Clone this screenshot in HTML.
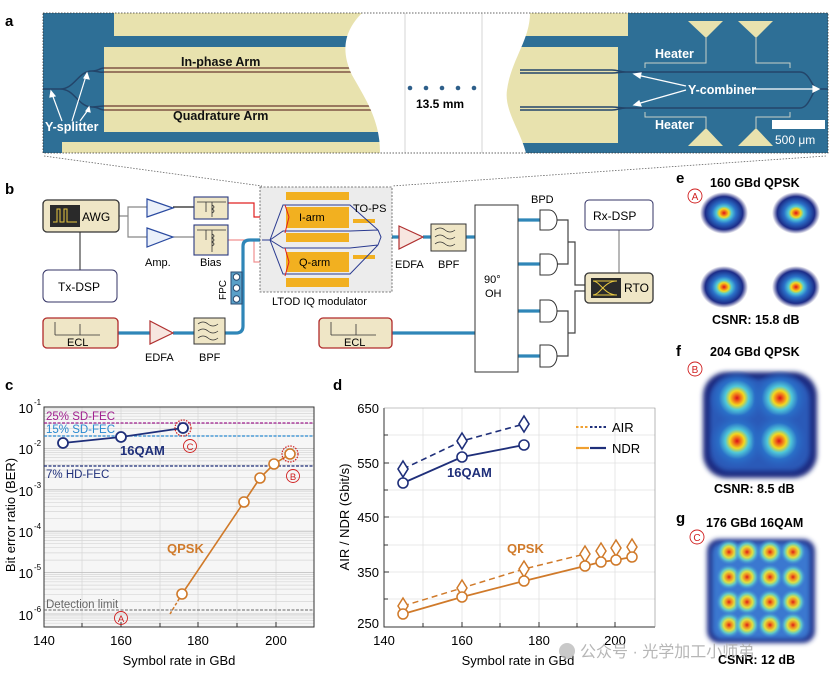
<!DOCTYPE html>
<html><head><meta charset="utf-8"><style>
html,body{margin:0;padding:0;background:#fff}
svg{display:block}
text{font-family:"Liberation Sans","Noto Sans CJK SC",sans-serif}
</style></head><body>
<svg width="835" height="685" viewBox="0 0 835 685" xmlns="http://www.w3.org/2000/svg">
<defs>
<radialGradient id="bl" cx="50%" cy="50%" r="50%">
<stop offset="0" stop-color="#d8101a"/><stop offset="0.09" stop-color="#f06a1a"/><stop offset="0.2" stop-color="#f2d820"/><stop offset="0.32" stop-color="#50c8d8"/><stop offset="0.5" stop-color="#2a70c8"/><stop offset="0.78" stop-color="#1c2c88"/><stop offset="1" stop-color="#2a2a80" stop-opacity="0"/>
</radialGradient>
<radialGradient id="blf" cx="50%" cy="50%" r="50%">
<stop offset="0" stop-color="#d8101a"/><stop offset="0.12" stop-color="#f06a1a"/><stop offset="0.26" stop-color="#f2d820"/><stop offset="0.42" stop-color="#50c8d8"/><stop offset="0.65" stop-color="#2a70c8"/><stop offset="1" stop-color="#2a60c0" stop-opacity="0"/>
</radialGradient>
<radialGradient id="bl2" cx="50%" cy="50%" r="50%">
<stop offset="0" stop-color="#d8201a"/><stop offset="0.2" stop-color="#f08a20"/><stop offset="0.42" stop-color="#e0e040"/><stop offset="0.65" stop-color="#60c8c8"/><stop offset="1" stop-color="#3a80d8" stop-opacity="0"/>
</radialGradient>
<filter id="soft"><feGaussianBlur stdDeviation="2.5"/></filter>
</defs>

<!-- ===== Panel a ===== -->
<text x="5" y="26" font-size="15" font-weight="bold">a</text>
<rect x="43" y="13" width="785" height="140" fill="#2e6f96"/>
<rect x="114" y="13" width="260" height="23" fill="#e8e2ae"/>
<rect x="104" y="47" width="280" height="85" fill="#e8e2ae"/>
<rect x="62" y="142" width="320" height="11" fill="#e8e2ae"/>
<rect x="500" y="13" width="128" height="23" fill="#e8e2ae"/>
<rect x="500" y="47" width="118" height="96" fill="#e8e2ae"/>
<g fill="none" stroke="#6a3a30" stroke-width="1.3">
<path d="M104,68 L370,68 M104,72 L370,72 M104,106 L380,106 M104,110 L380,110"/>
</g>
<g fill="none" stroke="#23456a" stroke-width="1.5">
<path d="M43,89 L60,89 C75,89 78,71 92,71 C98,71 100,68 104,68 M92,71 C98,71 100,73 104,72 M60,89 C75,89 78,107 92,107 C98,107 100,106 104,106 M92,107 C98,107 100,110 104,110"/>
<path d="M520,70 L612,70 M520,73 L612,73 M520,107 L612,107 M520,110 L612,110"/>
<path d="M612,70 C618,70 620,72 626,72 L800,72 C810,72 812,89 818,89 L828,89 M612,73 C618,73 620,72 626,72 M612,107 C618,107 620,108 626,108 L800,108 C810,108 812,89 818,89 M612,110 C618,110 620,108 626,108"/>
</g>
<path d="M362,13 C345,30 340,50 352,75 C366,100 380,120 380,153 L526,153 C520,130 504,110 507,90 C511,60 530,40 530,13 Z" fill="#fff"/>
<line x1="405" y1="13" x2="405" y2="153" stroke="#ccc" stroke-width="0.8"/>
<line x1="482" y1="13" x2="482" y2="153" stroke="#ccc" stroke-width="0.8"/>
<g fill="#2e5f8a"><circle cx="410" cy="88" r="2.3"/><circle cx="426" cy="88" r="2.3"/><circle cx="442" cy="88" r="2.3"/><circle cx="458" cy="88" r="2.3"/><circle cx="474" cy="88" r="2.3"/></g>
<text x="416" y="108" font-size="12" font-weight="bold">13.5 mm</text>
<g fill="#e8e2ae"><path d="M688,21 L723,21 L706,38 Z M738,21 L773,21 L756,38 Z M688,146 L723,146 L706,128 Z M738,146 L773,146 L756,128 Z"/></g>
<g fill="none" stroke="#c8d0c8" stroke-width="1"><path d="M645,68 L645,63 L706,63 L706,38 M790,68 L790,63 L756,63 L756,38 M645,112 L645,117 L706,117 L706,128 M790,112 L790,117 L756,117 L756,128"/></g>
<g fill="#fff" font-weight="bold" font-size="12.5">
<text x="655" y="58">Heater</text><text x="655" y="129">Heater</text>
<text x="688" y="94">Y-combiner</text>
<text x="181" y="66" fill="#111">In-phase Arm</text>
<text x="173" y="120" fill="#111">Quadrature Arm</text>
<text x="45" y="131">Y-splitter</text>
</g>
<g stroke="#fff" stroke-width="1.2" fill="#fff">
<path d="M686,86 L637,75 M686,90 L637,104 M752,89 L815,89" fill="none"/>
<path d="M634,74 l7,-1 l-1,5 z M634,105 l5,-4 l2,5 z M819,89 l-6,-3 l0,6 z"/>
<path d="M62,121 L52,94 M72,121 L86,76 M80,121 L88,110" fill="none"/>
<path d="M51,91 l-1,6 l5,-1 z M87,73 l-3,5 l5,1 z M89,107 l-3,4 l4,1 z"/>
</g>
<rect x="772" y="120" width="53" height="9" fill="#fff"/>
<text x="775" y="144" font-size="12" fill="#fff">500 μm</text>
<rect x="43" y="13" width="785" height="140" fill="none" stroke="#333" stroke-width="0.8" stroke-dasharray="1.5,1.5"/>
<path d="M44,156 L262,186 M826,156 L392,186" stroke="#666" stroke-width="0.8" stroke-dasharray="1.5,1.5" fill="none"/>

<!-- ===== Panel b ===== -->
<text x="5" y="194" font-size="15" font-weight="bold">b</text>
<g fill="none" stroke-width="1.2">
<path d="M119,216 L128,216 L128,207 L147,207 M119,216 L128,216 L128,237 L147,237" stroke="#888"/>
<path d="M173,207 L194,207" stroke="#222"/><path d="M173,237 L194,237" stroke="#888"/>
<path d="M80,232 L80,270" stroke="#444"/>
<path d="M228,203 L254,203 L254,217 L292,217" stroke="#e02020"/>
<path d="M228,240 L254,240 L254,262 L292,262" stroke="#f09090"/>
<path d="M619,230 L619,273" stroke="#888"/>
<path d="M557,220 L568,220 L568,264 L557,264 M568,242 L575,242 L575,285 L585,285 M557,311 L568,311 L568,356 L557,356 M568,333 L575,333 L575,291 L585,291" stroke="#444"/>
</g>
<g fill="none" stroke="#2f86b8" stroke-width="3.2">
<path d="M118,333 L150,333 M173,333 L194,333 M225,333 L236,333 Q243,333 243,326 L243,246 Q243,240 250,240 L262,240"/>
<path d="M381,237 L399,237 M423,237 L431,237 M466,237 L475,237 M392,333 L475,333"/>
<path d="M518,220 L540,220 M518,264 L540,264 M518,311 L540,311 M518,356 L540,356"/>
</g>
<rect x="43" y="200" width="76" height="32" rx="4" fill="#efe6c6" stroke="#333" stroke-width="1.3"/>
<rect x="50" y="205" width="30" height="22" fill="#2a2a2a"/>
<path d="M53,222 L57,222 L57,209 L60,209 L60,222 L64,222 L64,209 L67,209 L67,222 L77,222" stroke="#e8c840" fill="none" stroke-width="1"/>
<text x="82" y="221" font-size="12">AWG</text>
<rect x="43" y="270" width="74" height="32" rx="5" fill="#fff" stroke="#333366" stroke-width="1"/>
<text x="58" y="291" font-size="12">Tx-DSP</text>
<g fill="#eaf0fa" stroke="#2a4aa0" stroke-width="1.2"><path d="M147,199 L173,208 L147,217 Z"/><path d="M147,228 L173,237 L147,247 Z"/></g>
<text x="145" y="266" font-size="11">Amp.</text>
<g fill="#efe6c6" stroke="#2a3a80" stroke-width="1.1"><rect x="194" y="197" width="34" height="22"/><rect x="194" y="225" width="34" height="30"/></g>
<g fill="none" stroke="#333" stroke-width="0.8"><path d="M197,202 L226,202 M206,202 L206,212 M212,202 L212,217 M197,230 L226,230 M206,230 L206,240 M212,230 L212,252"/><path d="M212,205 q4,2 0,4 q4,2 0,4 M212,234 q4,2 0,4 q4,2 0,4 q4,2 0,4"/></g>
<text x="200" y="266" font-size="11">Bias</text>
<g fill="#5aa0c8" stroke="#2a4a70" stroke-width="1"><rect x="231" y="272" width="11" height="32"/></g>
<g fill="#fff" stroke="#2a4a70" stroke-width="1"><circle cx="236.5" cy="277" r="3.2"/><circle cx="236.5" cy="288" r="3.2"/><circle cx="236.5" cy="299" r="3.2"/></g>
<text transform="translate(226,300) rotate(-90)" font-size="10">FPC</text>
<rect x="43" y="318" width="75" height="30" rx="4" fill="#efe6c6" stroke="#b02a2a" stroke-width="1.3"/>
<path d="M55,335 L55,322 M55,335 L100,335 M80,335 L80,324" stroke="#333" fill="none" stroke-width="0.8"/>
<text x="67" y="346" font-size="11">ECL</text>
<path d="M150,321 L173,333 L150,344 Z" fill="#f7e6e0" stroke="#b03030" stroke-width="1.2"/>
<text x="145" y="361" font-size="11">EDFA</text>
<rect x="194" y="318" width="31" height="26" fill="#efe6c6" stroke="#333" stroke-width="1"/>
<path d="M198,324 q5,-4 10,0 t10,0 M198,331 q5,-4 10,0 t10,0 M198,338 q5,-4 10,0 t10,0" stroke="#333" fill="none" stroke-width="0.8"/>
<text x="199" y="361" font-size="11">BPF</text>
<rect x="260" y="187" width="132" height="105" fill="#ececec" stroke="#555" stroke-width="0.8" stroke-dasharray="2,1.5"/>
<g fill="#f2b020"><rect x="286" y="192" width="63" height="8"/><rect x="286" y="207" width="63" height="21"/><rect x="286" y="233" width="63" height="9"/><rect x="286" y="252" width="63" height="20"/><rect x="286" y="278" width="63" height="9"/><rect x="353" y="219" width="22" height="4"/><rect x="353" y="255" width="22" height="4"/></g>
<g fill="none" stroke="#2a3a90" stroke-width="1"><path d="M262,240 L270,240 L283,205 L350,205 L378,230 M270,240 L283,231 L350,231 L378,230 M270,240 L283,248 L350,248 L378,245 M270,240 L283,274 L350,274 L378,245 M378,230 L381,237 L378,245"/></g>
<g stroke="#e02020" stroke-width="1" fill="none"><path d="M289,217 l-4,-12 M289,217 l-4,16 M289,262 l-4,-14 M289,262 l-4,14"/></g>
<text x="299" y="221" font-size="11">I-arm</text>
<text x="299" y="266" font-size="11">Q-arm</text>
<text x="353" y="212" font-size="11">TO-PS</text>
<text x="272" y="305" font-size="11">LTOD IQ modulator</text>
<path d="M399,226 L423,237 L399,249 Z" fill="#f7e6e0" stroke="#b03030" stroke-width="1.2"/>
<text x="395" y="268" font-size="11">EDFA</text>
<rect x="431" y="224" width="35" height="27" fill="#efe6c6" stroke="#333" stroke-width="1"/>
<path d="M435,230 q5,-4 10,0 t10,0 M435,237 q5,-4 10,0 t10,0 M435,244 q5,-4 10,0 t10,0" stroke="#333" fill="none" stroke-width="0.8"/>
<text x="438" y="268" font-size="11">BPF</text>
<rect x="475" y="205" width="43" height="167" fill="#fff" stroke="#333" stroke-width="1"/>
<text x="484" y="283" font-size="11">90°</text>
<text x="485" y="297" font-size="11">OH</text>
<rect x="319" y="318" width="73" height="30" rx="4" fill="#efe6c6" stroke="#b02a2a" stroke-width="1.3"/>
<path d="M331,335 L331,322 M331,335 L376,335 M356,335 L356,324" stroke="#333" fill="none" stroke-width="0.8"/>
<text x="344" y="346" font-size="11">ECL</text>
<g fill="#fff" stroke="#333" stroke-width="1"><path d="M540,210 L549,210 A8,10 0 0 1 549,230 L540,230 Z M540,254 L549,254 A8,10 0 0 1 549,275 L540,275 Z M540,300 L549,300 A8,11 0 0 1 549,322 L540,322 Z M540,345 L549,345 A8,11 0 0 1 549,367 L540,367 Z"/></g>
<text x="531" y="203" font-size="11">BPD</text>
<rect x="585" y="200" width="68" height="30" rx="4" fill="#fff" stroke="#333366" stroke-width="1"/>
<text x="593" y="220" font-size="12">Rx-DSP</text>
<rect x="585" y="273" width="68" height="30" rx="4" fill="#efe6c6" stroke="#333" stroke-width="1.3"/>
<rect x="591" y="278" width="30" height="20" fill="#2a2a2a"/>
<path d="M593,281 C600,281 604,295 617,295 M593,295 C600,295 604,281 617,281 M593,281 L617,281 M593,295 L617,295" stroke="#e8c840" fill="none" stroke-width="1"/>
<text x="624" y="292" font-size="12">RTO</text>

<!-- ===== Panel e,f,g ===== -->
<g font-weight="bold" font-size="12.5">
<text x="676" y="183" font-size="15">e</text>
<text x="710" y="187">160 GBd QPSK</text>
<text x="712" y="324">CSNR: 15.8 dB</text>
<text x="676" y="356" font-size="15">f</text>
<text x="710" y="356">204 GBd QPSK</text>
<text x="714" y="493">CSNR: 8.5 dB</text>
<text x="676" y="523" font-size="15">g</text>
<text x="706" y="527">176 GBd 16QAM</text>
<text x="718" y="664">CSNR: 12 dB</text>
</g>
<g fill="none" stroke="#d02020" stroke-width="0.9"><circle cx="695" cy="196" r="7"/><circle cx="695" cy="369" r="7"/><circle cx="697" cy="537" r="7"/></g>
<g fill="#d02020" font-size="10" text-anchor="middle"><text x="695" y="200">A</text><text x="695" y="373">B</text><text x="697" y="541">C</text></g>
<g fill="url(#bl)"><ellipse cx="724" cy="213" rx="24" ry="21"/><ellipse cx="796" cy="213" rx="24" ry="21"/><ellipse cx="724" cy="287" rx="24" ry="21"/><ellipse cx="796" cy="287" rx="24" ry="21"/></g>
<rect x="703" y="372" width="114" height="106" rx="24" fill="#1e2c80" filter="url(#soft)"/>
<rect x="710" y="379" width="100" height="92" rx="20" fill="#2a5ab8" filter="url(#soft)"/>
<g fill="url(#blf)"><circle cx="737" cy="398" r="28"/><circle cx="780" cy="398" r="28"/><circle cx="737" cy="441" r="28"/><circle cx="779" cy="441" r="28"/></g>
<rect x="707" y="539" width="108" height="104" rx="12" fill="#22308a" filter="url(#soft)"/>
<rect x="712" y="543" width="98" height="96" rx="10" fill="#3a78d0" filter="url(#soft)"/>
<g fill="url(#bl2)">
<circle cx="729" cy="552" r="13"/><circle cx="747" cy="552" r="13"/><circle cx="770" cy="552" r="13"/><circle cx="793" cy="552" r="13"/>
<circle cx="729" cy="577" r="13"/><circle cx="747" cy="577" r="13"/><circle cx="770" cy="577" r="13"/><circle cx="793" cy="577" r="13"/>
<circle cx="729" cy="602" r="13"/><circle cx="747" cy="602" r="13"/><circle cx="770" cy="602" r="13"/><circle cx="793" cy="602" r="13"/>
<circle cx="729" cy="625" r="13"/><circle cx="747" cy="625" r="13"/><circle cx="770" cy="625" r="13"/><circle cx="793" cy="625" r="13"/>
</g>

<!-- ===== Panel c ===== -->
<text x="5" y="390" font-size="15" font-weight="bold">c</text>
<rect x="44" y="407" width="270" height="220" fill="#f6f6f6"/>
<path stroke="#d6d6d6" stroke-width="0.7" fill="none" d="
M44,601.5H314M44,594.3H314M44,589.1H314M44,585.1H314M44,581.8H314M44,579H314M44,576.6H314M44,574.5H314
M44,560.1H314M44,552.9H314M44,547.7H314M44,543.7H314M44,540.4H314M44,537.6H314M44,535.2H314M44,533.1H314
M44,518.7H314M44,511.5H314M44,506.3H314M44,502.3H314M44,499H314M44,496.2H314M44,493.8H314M44,491.7H314
M44,477.3H314M44,470.1H314M44,464.9H314M44,460.9H314M44,457.6H314M44,454.8H314M44,452.4H314M44,450.3H314
M44,435.9H314M44,428.7H314M44,423.5H314M44,419.5H314M44,416.2H314M44,413.4H314M44,411H314M44,408.9H314
M44,623.2H314M44,620.4H314M44,618H314M44,615.9H314
M121,407V627M198,407V627M276,407V627M82,407V627M160,407V627M237,407V627"/>
<path stroke="#bbb" stroke-width="0.8" d="M44,448.4H314M44,489.8H314M44,531.2H314M44,572.6H314M44,614H314"/>
<rect x="44" y="407" width="270" height="220" fill="none" stroke="#333" stroke-width="1"/>
<path stroke="#333" d="M82,627v-4M121,627v-5M160,627v-4M198,627v-5M237,627v-4M276,627v-5" />
<g font-size="13" text-anchor="middle"><text x="44" y="645">140</text><text x="121" y="645">160</text><text x="198" y="645">180</text><text x="276" y="645">200</text></g>
<g font-size="13" text-anchor="end">
<text x="33" y="413">10</text><text x="33" y="454">10</text><text x="33" y="496">10</text><text x="33" y="537">10</text><text x="33" y="578">10</text><text x="33" y="620">10</text></g>
<g font-size="8"><text x="34" y="405">-1</text><text x="34" y="446">-2</text><text x="34" y="488">-3</text><text x="34" y="529">-4</text><text x="34" y="570">-5</text><text x="34" y="612">-6</text></g>
<text x="179" y="665" font-size="13" text-anchor="middle">Symbol rate in GBd</text>
<text transform="translate(15,515) rotate(-90)" font-size="13" text-anchor="middle">Bit error ratio (BER)</text>
<g stroke-width="1.2" stroke-dasharray="3,1.5" fill="none">
<path d="M44,423H314" stroke="#a0208f"/><path d="M44,436H314" stroke="#2a8ad0"/><path d="M44,466H314" stroke="#1f2f7a"/><path d="M44,610H314" stroke="#666" stroke-width="0.9"/>
</g>
<g font-size="11.5"><text x="46" y="420" fill="#a0208f">25% SD-FEC</text><text x="46" y="433" fill="#2a8ad0">15% SD-FEC</text><text x="46" y="478" fill="#1f2f7a">7% HD-FEC</text><text x="46" y="608" fill="#666">Detection limit</text></g>
<path d="M63,443 L121,437 L183,428" stroke="#1f2f7a" stroke-width="1.8" fill="none"/>
<g fill="#fff" stroke="#1f2f7a" stroke-width="1.8"><circle cx="63" cy="443" r="5"/><circle cx="121" cy="437" r="5"/><circle cx="183" cy="428" r="5"/></g>
<path d="M170,614 L182,594" stroke="#d07a2a" stroke-width="1.5" stroke-dasharray="3,2"/>
<path d="M182,594 L244,502 L260,478 L274,464 L290,454" stroke="#d07a2a" stroke-width="1.6" fill="none"/>
<g fill="#fff" stroke="#d07a2a" stroke-width="1.6"><circle cx="182" cy="594" r="5"/><circle cx="244" cy="502" r="5"/><circle cx="260" cy="478" r="5"/><circle cx="274" cy="464" r="5"/><circle cx="290" cy="454" r="5"/></g>
<g fill="none" stroke="#d02020" stroke-width="1.2" stroke-dasharray="1.5,1.2"><circle cx="183" cy="428" r="8"/><circle cx="290" cy="454" r="8"/></g>
<g fill="none" stroke="#d02020" stroke-width="0.9"><circle cx="190" cy="446" r="6.5"/><circle cx="293" cy="476" r="6.5"/><circle cx="121" cy="618" r="6.5"/></g>
<g fill="#d02020" font-size="9.5" text-anchor="middle"><text x="190" y="450">C</text><text x="293" y="480">B</text><text x="121" y="622">A</text></g>
<text x="120" y="455" font-size="13" font-weight="bold" fill="#1f2f7a">16QAM</text>
<text x="167" y="553" font-size="13" font-weight="bold" fill="#d07a2a">QPSK</text>

<!-- ===== Panel d ===== -->
<text x="333" y="390" font-size="15" font-weight="bold">d</text>
<path stroke="#e2e2e2" stroke-width="0.8" fill="none" d="M384,435H655M384,463H655M384,490H655M384,517H655M384,545H655M384,572H655M384,599H655M423,408V627M462,408V627M500,408V627M539,408V627M577,408V627M615,408V627"/>
<path d="M384,408 L384,627 L655,627" stroke="#333" fill="none" stroke-width="1"/>
<path d="M384,408 L655,408 L655,627" stroke="#888" fill="none" stroke-width="0.6"/>
<path stroke="#333" d="M423,627v-4M462,627v-5M500,627v-4M539,627v-5M577,627v-4M615,627v-5M384,435h4M384,463h5M384,490h4M384,517h5M384,545h4M384,572h5M384,599h4"/>
<g font-size="13" text-anchor="middle"><text x="384" y="645">140</text><text x="462" y="645">160</text><text x="539" y="645">180</text><text x="615" y="645">200</text></g>
<g font-size="13" text-anchor="end"><text x="379" y="413">650</text><text x="379" y="468">550</text><text x="379" y="522">450</text><text x="379" y="577">350</text><text x="379" y="628">250</text></g>
<text x="518" y="665" font-size="13" text-anchor="middle">Symbol rate in GBd</text>
<text transform="translate(349,517) rotate(-90)" font-size="13" text-anchor="middle">AIR / NDR (Gbit/s)</text>
<path d="M403,469 L462,441 L524,424" stroke="#1f2f7a" stroke-width="1.6" stroke-dasharray="6,4" fill="none"/>
<path d="M403,483 L462,457 L524,445" stroke="#1f2f7a" stroke-width="1.8" fill="none"/>
<g fill="#fff" stroke="#1f2f7a" stroke-width="1.6">
<path d="M403,461 l5,8 l-5,8 l-5,-8 z M462,433 l5,8 l-5,8 l-5,-8 z M524,416 l5,8 l-5,8 l-5,-8 z"/>
<circle cx="403" cy="483" r="5"/><circle cx="462" cy="457" r="5"/><circle cx="524" cy="445" r="5"/></g>
<path d="M403,606 L462,588 L524,569 L585,554" stroke="#d07a2a" stroke-width="1.5" stroke-dasharray="6,4" fill="none"/>
<path d="M403,614 L462,597 L524,581 L585,566 L601,562 L616,560 L632,557" stroke="#d07a2a" stroke-width="1.7" fill="none"/>
<g fill="#fff" stroke="#d07a2a" stroke-width="1.5">
<path d="M403,598 l5,8 l-5,8 l-5,-8 z M462,580 l5,8 l-5,8 l-5,-8 z M524,561 l5,8 l-5,8 l-5,-8 z M585,546 l5,8 l-5,8 l-5,-8 z M601,543 l5,8 l-5,8 l-5,-8 z M616,540 l5,8 l-5,8 l-5,-8 z M632,539 l5,8 l-5,8 l-5,-8 z"/>
<circle cx="403" cy="614" r="5"/><circle cx="462" cy="597" r="5"/><circle cx="524" cy="581" r="5"/><circle cx="585" cy="566" r="5"/><circle cx="601" cy="562" r="5"/><circle cx="616" cy="560" r="5"/><circle cx="632" cy="557" r="5"/></g>
<text x="447" y="477" font-size="13" font-weight="bold" fill="#1f2f7a">16QAM</text>
<text x="507" y="553" font-size="13" font-weight="bold" fill="#d07a2a">QPSK</text>
<path d="M576,427 h13" stroke="#f0a030" stroke-width="2" stroke-dasharray="2.5,2"/><path d="M590,427 h16" stroke="#1f2f7a" stroke-width="2" stroke-dasharray="2.5,2"/>
<path d="M576,448 h13" stroke="#f0a030" stroke-width="2.2"/><path d="M590,448 h16" stroke="#1f2f7a" stroke-width="2.2"/>
<text x="612" y="432" font-size="13">AIR</text><text x="612" y="453" font-size="13">NDR</text>

<circle cx="567" cy="651" r="8" fill="#bbb" opacity="0.8"/>
<text x="580" y="657" font-size="16" fill="#aaa" opacity="0.85">公众号 · 光学加工小师弟</text>
</svg>
</body></html>
